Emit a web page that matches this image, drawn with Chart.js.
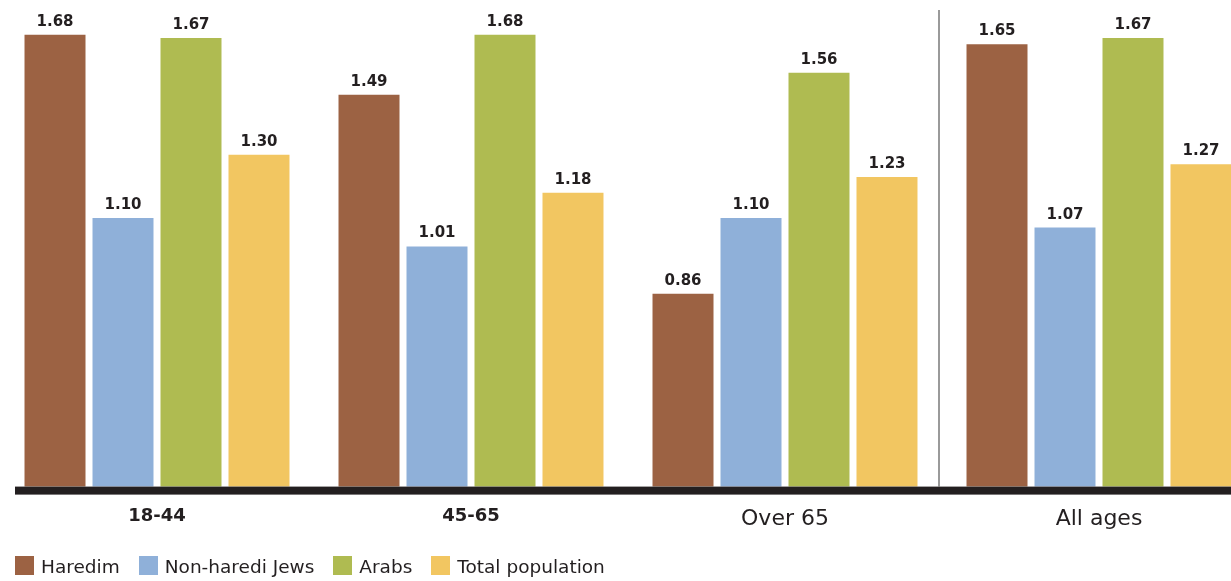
<!DOCTYPE html>
<html>
<head>
<meta charset="utf-8">
<script src="https://cdn.jsdelivr.net/npm/chart.js@4/dist/chart.umd.min.js"></script>
<style>
  html, body { margin: 0; padding: 0; background: #fff; overflow: hidden; width: 1231px; height: 581px; }
  #wrap { position: relative; width: 1231px; height: 581px; overflow: hidden; }
  canvas { position: absolute; left: 0; top: 0; }
  #legend { position: absolute; left: 15px; top: 556px; display: flex; font-family: "DejaVu Sans", sans-serif; font-size: 18.5px; color: #231f20; }
  .item { display: flex; align-items: center; margin-right: 19px; height: 19px; }
  .box { width: 19px; height: 19px; margin-right: 7px; }
  .lbl { line-height: 19px; position: relative; top: 1px; }
</style>
</head>
<body>
<div id="wrap">
  <canvas id="c" width="1256" height="581"></canvas>
  <div id="legend"></div>
</div>
<script>
const categories = ["18-44", "45-65", "Over 65", "All ages"];
const seriesNames = ["Haredim", "Non-haredi Jews", "Arabs", "Total population"];
const haredim = [1.68, 1.49, 0.86, 1.65];
const nonHarediJews = [1.10, 1.01, 1.10, 1.07];
const arabs = [1.67, 1.68, 1.56, 1.67];
const totalPopulation = [1.30, 1.18, 1.23, 1.27];
const colors = ["#9c6243", "#8fb0d9", "#afbb51", "#f2c661"];
const boldTicks = [true, true, false, false];

const seriesData = [haredim, nonHarediJews, arabs, totalPopulation];

const valueLabels = {
  id: "valueLabels",
  afterDatasetsDraw(chart) {
    const ctx = chart.ctx;
    ctx.save();
    ctx.font = "bold 15px 'DejaVu Sans', sans-serif";
    ctx.fillStyle = "#231f20";
    ctx.textAlign = "center";
    ctx.textBaseline = "alphabetic";
    chart.data.datasets.forEach((ds, i) => {
      const meta = chart.getDatasetMeta(i);
      meta.data.forEach((bar, j) => {
        ctx.fillText(ds.data[j].toFixed(2), bar.x, bar.y - 9);
      });
    });
    ctx.restore();
  }
};

const decorations = {
  id: "decorations",
  afterDatasetsDraw(chart) {
    const ctx = chart.ctx;
    const area = chart.chartArea;
    const xs = chart.scales.x;
    ctx.save();
    const sx = Math.round((xs.getPixelForValue(2) + xs.getPixelForValue(3)) / 2) - 3;
    ctx.strokeStyle = "#9a9a9a";
    ctx.lineWidth = 2;
    ctx.beginPath();
    ctx.moveTo(sx, 10);
    ctx.lineTo(sx, area.bottom);
    ctx.stroke();
    ctx.fillStyle = "#231f20";
    ctx.fillRect(15, area.bottom, chart.width - 15, 8);
    ctx.restore();
  }
};

new Chart(document.getElementById("c"), {
  type: "bar",
  data: {
    labels: categories,
    datasets: seriesNames.map((name, i) => ({
      label: name,
      data: seriesData[i],
      backgroundColor: colors[i],
      borderWidth: 0,
      categoryPercentage: 0.8662,
      barPercentage: 0.897
    }))
  },
  options: {
    responsive: false,
    animation: false,
    layout: { padding: { top: 0, left: 0, right: 0, bottom: 30 } },
    plugins: { legend: { display: false }, tooltip: { enabled: false } },
    scales: {
      x: {
        offset: true,
        grid: { display: false, drawTicks: false },
        border: { display: false },
        ticks: {
          autoSkip: false,
          maxRotation: 0,
          padding: 19,
          color: "#231f20",
          font: (ctx) => boldTicks[ctx.index]
            ? { family: "'DejaVu Sans', sans-serif", size: 18, weight: "bold" }
            : { family: "'DejaVu Sans', sans-serif", size: 22, weight: "normal" }
        }
      },
      y: {
        display: false,
        min: 0.25,
        max: 1.79
      }
    }
  },
  plugins: [valueLabels, decorations]
});

const legend = document.getElementById("legend");
seriesNames.forEach((name, i) => {
  const item = document.createElement("div");
  item.className = "item";
  const box = document.createElement("div");
  box.className = "box";
  box.style.background = colors[i];
  const lbl = document.createElement("span");
  lbl.className = "lbl";
  lbl.textContent = name;
  item.appendChild(box);
  item.appendChild(lbl);
  legend.appendChild(item);
});
</script>
</body>
</html>
